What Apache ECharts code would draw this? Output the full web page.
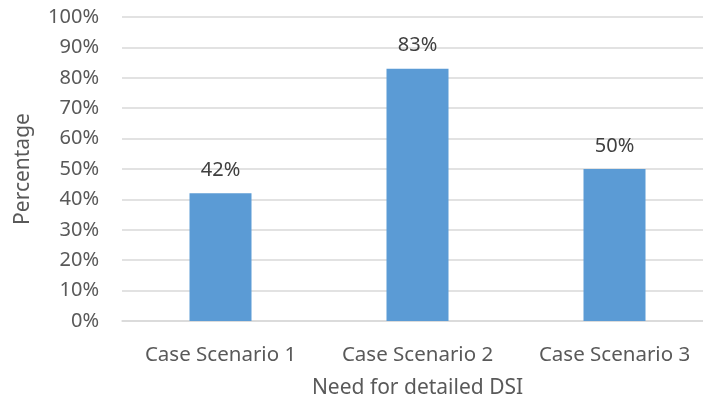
<!DOCTYPE html>
<html>
<head>
<meta charset="utf-8">
<script src="https://cdn.jsdelivr.net/npm/echarts@6/dist/echarts.min.js"></script>
<style>
  html, body { margin: 0; padding: 0; background: #fff; }
  #chart { width: 703px; height: 404px; }
</style>
</head>
<body>
<div id="chart"></div>
<script>
// Share of respondents needing detailed DSI, per case scenario
const categories = ['Case Scenario 1', 'Case Scenario 2', 'Case Scenario 3'];
const percentages = [42, 83, 50];
const yTicks = [0, 10, 20, 30, 40, 50, 60, 70, 80, 90, 100];

const FONT = 'Noto Sans';
const GREY = '#595959';

const chart = echarts.init(document.getElementById('chart'), null, { renderer: 'canvas' });
chart.setOption({
  animation: false,
  textStyle: { fontFamily: FONT },
  grid: { left: 122, top: 17, width: 591, height: 304, containLabel: false, outerBoundsMode: 'none' },
  xAxis: {
    type: 'category',
    data: categories,
    name: 'Need for detailed DSI',
    nameLocation: 'middle',
    nameGap: 57,
    nameTextStyle: { fontFamily: FONT, fontSize: 21, color: GREY },
    axisLine: { show: true, lineStyle: { color: '#d9d9d9', width: 1.5 } },
    axisTick: { show: false },
    axisLabel: { fontFamily: FONT, fontSize: 20.5, color: GREY, margin: 24 }
  },
  yAxis: {
    type: 'value',
    min: yTicks[0],
    max: yTicks[yTicks.length - 1],
    interval: 10,
    name: 'Percentage',
    nameLocation: 'middle',
    nameGap: 88,
    nameTextStyle: { fontFamily: FONT, fontSize: 21, color: GREY },
    axisLine: { show: false },
    axisTick: { show: false },
    splitLine: { lineStyle: { color: '#d9d9d9', width: 1.5 } },
    axisLabel: { fontFamily: FONT, fontSize: 20, color: GREY, margin: 23, formatter: v => v + '%' }
  },
  series: [{
    type: 'bar',
    data: percentages,
    barWidth: 62,
    itemStyle: { color: '#5b9bd5' },
    label: {
      show: true,
      position: 'top',
      distance: 13,
      fontFamily: FONT,
      fontSize: 20,
      color: '#404040',
      formatter: p => p.value + '%'
    }
  }]
});
</script>
</body>
</html>
